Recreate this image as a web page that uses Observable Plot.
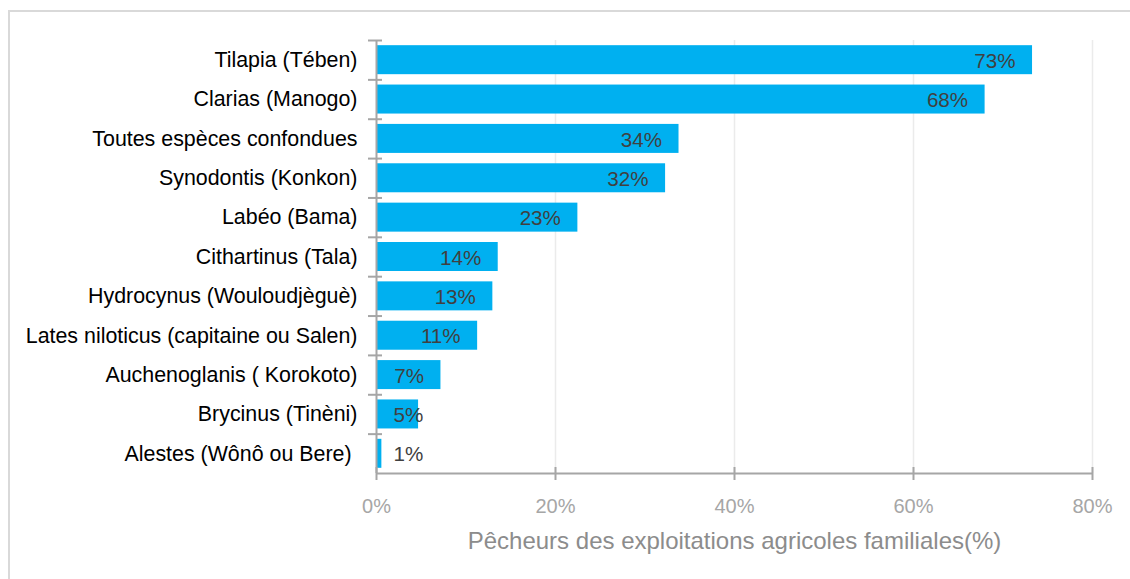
<!DOCTYPE html>
<html>
<head>
<meta charset="utf-8">
<script src="https://cdn.jsdelivr.net/npm/d3@7"></script>
<script src="https://cdn.jsdelivr.net/npm/@observablehq/plot@0.6"></script>
<style>
  html, body { margin: 0; padding: 0; background: #fff; overflow: hidden; }
  #wrap { position: relative; width: 1130px; height: 579px; }
  #frame { position: absolute; left: 8px; top: 10px; width: 1200px; height: 700px; border: 2px solid #d9d9d9; box-sizing: border-box; }
  #chart { position: absolute; left: 0; top: 0; }
  svg text { white-space: pre; }
</style>
</head>
<body>
<div id="wrap"><div id="frame"></div><div id="chart"></div></div>
<script>
const species = [
  "Tilapia (Tében)",
  "Clarias (Manogo)",
  "Toutes espèces confondues",
  "Synodontis (Konkon)",
  "Labéo (Bama)",
  "Cithartinus (Tala)",
  "Hydrocynus (Wouloudjèguè)",
  "Lates niloticus (capitaine ou Salen)",
  "Auchenoglanis ( Korokoto)",
  "Brycinus (Tinèni)",
  "Alestes (Wônô ou Bere) "
];
const shares = [73.3, 68.0, 33.8, 32.3, 22.5, 13.6, 13.0, 11.3, 7.2, 4.7, 0.6];
const valueLabels = ["73%", "68%", "34%", "32%", "23%", "14%", "13%", "11%", "7%", "5%", "1%"];
const xTicks = [0, 20, 40, 60, 80];
const xTitle = "Pêcheurs des exploitations agricoles familiales(%)";

const data = species.map((s, i) => ({species: s, share: shares[i], label: valueLabels[i]}));

const W = 1130, H = 579;
const mL = 376, mR = 38, mT = 40, mB = 106;
const plotH = H - mT - mB, plotW = W - mL - mR;
const bw = plotH / species.length;
const barH = 29;
const axisColor = "#a6a6a6";
const font = "Liberation Sans, Arial, sans-serif";

const chart = Plot.plot({
  width: W,
  height: H,
  marginLeft: mL,
  marginRight: mR,
  marginTop: mT,
  marginBottom: mB,
  style: {fontFamily: font, background: "transparent"},
  x: {domain: [0, 80], label: null},
  y: {domain: species, padding: 0, round: false, label: null},
  marks: [
    Plot.ruleX(xTicks.slice(1), {stroke: "#ebebeb", strokeWidth: 1.5}),
    Plot.barX(data, {x: "share", y: "species", fill: "#00b0f0",
      insetTop: (bw - barH) / 2, insetBottom: (bw - barH) / 2}),
    // y axis line
    Plot.ruleX([0], {stroke: axisColor, strokeWidth: 2}),
    // y ticks at band boundaries
    Plot.ruleY(species, {y: d => d, dy: -bw / 2, stroke: axisColor, strokeWidth: 2,
      insetLeft: -8, insetRight: plotW - 6}),
    // x axis line
    Plot.ruleY(species.slice(-1), {y: d => d, dy: bw / 2, stroke: axisColor, strokeWidth: 2}),
    // x ticks
    Plot.ruleX(xTicks, {x: d => d, stroke: axisColor, strokeWidth: 2,
      insetTop: plotH - 6, insetBottom: -7}),
    Plot.axisX({ticks: xTicks, tickFormat: d => d + "%", tickSize: 0, tickPadding: 25,
      fontSize: 20, fill: "#a6a6a6", label: null}),
    Plot.axisY({tickSize: 0, tickPadding: 19, fontSize: 21.4, fill: "#000", label: null}),
    // value labels
    Plot.text(data.filter(d => d.share >= 7), {x: "share", y: "species", text: "label",
      textAnchor: "end", dx: -17, dy: 1, fontSize: 20.6, fill: "#404040"}),
    Plot.text(data.filter(d => d.share < 7), {x: 0, y: "species", text: "label",
      textAnchor: "start", dx: 17, dy: 1, fontSize: 20.6, fill: "#404040"}),
    // axis title
    Plot.text([xTitle], {x: 40, frameAnchor: "bottom", dy: 75, text: d => d,
      fontSize: 24, fill: "#8c8c8c"})
  ]
});
document.getElementById("chart").appendChild(chart);
</script>
</body>
</html>
